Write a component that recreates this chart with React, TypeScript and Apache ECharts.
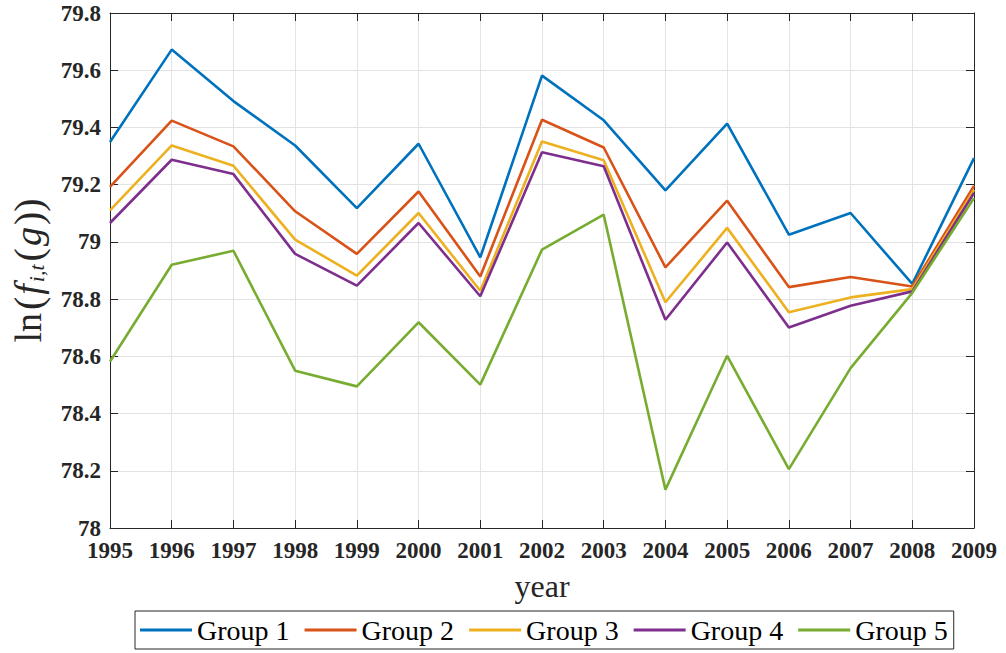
import React, { useEffect, useRef } from "react";
import * as echarts from "echarts";

const years = ["1995", "1996", "1997", "1998", "1999", "2000", "2001", "2002", "2003", "2004", "2005", "2006", "2007", "2008", "2009"];
const groupNames = ["Group 1", "Group 2", "Group 3", "Group 4", "Group 5"];
const group1 = [79.349, 79.672, 79.492, 79.337, 79.118, 79.343, 78.946, 79.581, 79.425, 79.18, 79.413, 79.025, 79.101, 78.853, 79.293];
const group2 = [79.192, 79.424, 79.334, 79.107, 78.958, 79.176, 78.879, 79.427, 79.33, 78.911, 79.144, 78.842, 78.877, 78.844, 79.196];
const group3 = [79.11, 79.337, 79.266, 79.008, 78.882, 79.101, 78.829, 79.351, 79.285, 78.789, 79.049, 78.754, 78.806, 78.835, 79.182];
const group4 = [79.066, 79.287, 79.237, 78.958, 78.847, 79.066, 78.81, 79.313, 79.264, 78.728, 78.998, 78.701, 78.777, 78.827, 79.171];
const group5 = [78.582, 78.92, 78.969, 78.55, 78.495, 78.719, 78.501, 78.973, 79.095, 78.134, 78.602, 78.206, 78.559, 78.822, 79.153];
const colors = ["#0072BD", "#D95319", "#EDB120", "#7E2F8E", "#77AC30"];

const SERIF = "Liberation Serif";
const AX = "#262626";

export default function App() {
  const ref = useRef<HTMLDivElement>(null);
  useEffect(() => {
    if (!ref.current) return;
    const chart = echarts.init(ref.current, undefined, { renderer: "svg" });
    const all = [group1, group2, group3, group4, group5];
    const tickCommon = { show: true, inside: true, length: 8, lineStyle: { color: AX, width: 1 } };
    const boldRich = { b: { fontFamily: SERIF, fontWeight: 700, fontSize: 23, color: AX } };
    chart.setOption({
      animation: false,
      backgroundColor: "#ffffff",
      textStyle: { fontFamily: SERIF },
      grid: { left: 106, right: 32, top: 13, bottom: 125, containLabel: false },
      legend: {
        data: groupNames,
        left: 135,
        top: 611,
        icon: "rect",
        itemWidth: 52,
        itemHeight: 3,
        itemGap: 15,
        padding: [5, 6, 5, 5],
        borderColor: AX,
        borderWidth: 1,
        backgroundColor: "#ffffff",
        textStyle: { fontFamily: SERIF, fontSize: 28, color: "#000" },
      },
      xAxis: [
        {
          type: "category",
          data: years,
          boundaryGap: false,
          name: "year",
          nameLocation: "middle",
          nameGap: 42,
          nameTextStyle: { fontFamily: SERIF, fontSize: 32, color: AX },
          axisLine: { show: true, lineStyle: { color: AX, width: 1 } },
          axisTick: { ...tickCommon, interval: 0 },
          axisLabel: {
            interval: 0,
            margin: 11,
            formatter: (v: string) => "{b|" + v + "}",
            rich: boldRich,
            fontFamily: SERIF,
            fontWeight: 700,
            fontSize: 23,
            color: AX,
          },
          splitLine: { show: true, interval: 0, lineStyle: { color: "#e3e3e3", width: 1 } },
        },
        {
          type: "category",
          data: years,
          boundaryGap: false,
          position: "top",
          axisLine: { show: true, lineStyle: { color: AX, width: 1 } },
          axisTick: { ...tickCommon, interval: 0 },
          axisLabel: { show: false },
          splitLine: { show: false },
        },
      ],
      yAxis: [
        {
          type: "value",
          min: 78,
          max: 79.8,
          interval: 0.2,
          name: "{n|ln}{sp| }{p|(}{i|f}{s|i,t}{p|(}{i|g}{p|))}",
          nameLocation: "middle",
          nameRotate: 90,
          nameGap: 62,
          nameTextStyle: {
            color: AX,
            rich: {
              n: { fontFamily: SERIF, fontSize: 38, color: AX },
              p: { fontFamily: SERIF, fontSize: 40, color: AX },
              sp: { fontFamily: SERIF, fontSize: 12, color: AX },
              i: { fontFamily: SERIF, fontSize: 38, fontStyle: "italic", color: AX, padding: [0, 2, 0, 2] },
              s: { fontFamily: SERIF, fontSize: 22, fontStyle: "italic", color: AX, padding: [16, 3, 0, 0] },
            },
          },
          axisLine: { show: true, lineStyle: { color: AX, width: 1 } },
          axisTick: tickCommon,
          axisLabel: {
            margin: 9,
            formatter: (v: number) => "{b|" + String(Math.round(v * 10) / 10) + "}",
            rich: boldRich,
            fontFamily: SERIF,
            fontWeight: 700,
            fontSize: 23,
            color: AX,
          },
          splitLine: { show: true, lineStyle: { color: "#e3e3e3", width: 1 } },
        },
        {
          type: "value",
          min: 78,
          max: 79.8,
          interval: 0.2,
          position: "right",
          axisLine: { show: true, lineStyle: { color: AX, width: 1 } },
          axisTick: tickCommon,
          axisLabel: { show: false },
          splitLine: { show: false },
        },
      ],
      series: all.map((d, k) => ({
        name: groupNames[k],
        type: "line",
        data: d,
        xAxisIndex: 0,
        yAxisIndex: 0,
        symbol: "none",
        color: colors[k],
        lineStyle: { width: 2.6, color: colors[k] },
        z: 2 + k,
      })),
    });
    return () => chart.dispose();
  }, []);
  return <div ref={ref} style={{ position: "fixed", left: 0, top: 0, width: 1006, height: 653 }} />;
}
